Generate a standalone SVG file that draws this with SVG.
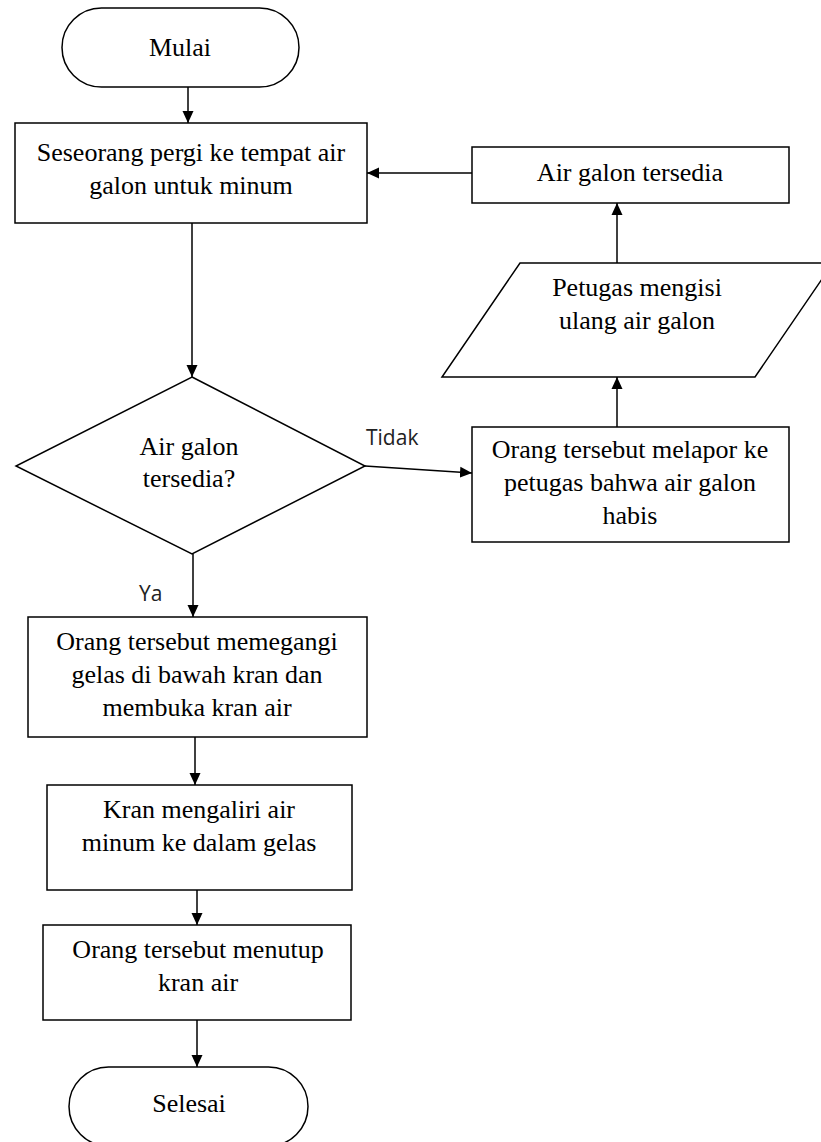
<svg xmlns="http://www.w3.org/2000/svg" width="821" height="1142" viewBox="0 0 821 1142">
<style>
.s{fill:#fff;stroke:#000;stroke-width:1.5}
.t{font-family:"Liberation Serif","Times New Roman",serif;font-size:26px;fill:#000;text-anchor:middle}
.l{font-family:"Open Sans","Noto Sans",sans-serif;font-size:21px;fill:#222}
.c{fill:none;stroke:#000;stroke-width:1.5}
</style>
<defs>
<marker id="ah" markerUnits="userSpaceOnUse" markerWidth="12" markerHeight="12" refX="12" refY="6" orient="auto">
<path d="M0,0.5 L12,6 L0,11.5 z" fill="#000"/>
</marker>
</defs>
<rect width="821" height="1142" fill="#fff"/>
<g id="connectors">
<line class="c" x1="188" y1="87" x2="188" y2="123" marker-end="url(#ah)"/>
<line class="c" x1="192" y1="223" x2="192" y2="377" marker-end="url(#ah)"/>
<line class="c" x1="472" y1="173" x2="367" y2="173" marker-end="url(#ah)"/>
<line class="c" x1="617" y1="263" x2="617" y2="203" marker-end="url(#ah)"/>
<line class="c" x1="617" y1="427" x2="617" y2="377" marker-end="url(#ah)"/>
<line class="c" x1="365" y1="466" x2="472" y2="473" marker-end="url(#ah)"/>
<line class="c" x1="193" y1="554" x2="193" y2="617" marker-end="url(#ah)"/>
<line class="c" x1="195" y1="737" x2="195" y2="785" marker-end="url(#ah)"/>
<line class="c" x1="197" y1="890" x2="197" y2="925" marker-end="url(#ah)"/>
<line class="c" x1="197" y1="1020" x2="197" y2="1067" marker-end="url(#ah)"/>
<text class="l" x="366" y="445">Tidak</text>
<text class="l" x="139" y="601">Ya</text>
</g>
<g id="mulai">
<rect class="s" x="62" y="8" width="237" height="79" rx="39.5" ry="39.5"/>
<text class="t" x="180" y="56">Mulai</text>
</g>
<g id="pergi">
<rect class="s" x="15" y="123" width="352" height="100"/>
<text class="t" x="191" y="161">Seseorang pergi ke tempat air</text>
<text class="t" x="191" y="194">galon untuk minum</text>
</g>
<g id="tersedia-box">
<rect class="s" x="472" y="147" width="317" height="56"/>
<text class="t" x="630" y="181">Air galon tersedia</text>
</g>
<g id="petugas">
<polygon class="s" points="520,263 833,263 755,377 442,377"/>
<text class="t" x="637" y="296">Petugas mengisi</text>
<text class="t" x="637" y="329">ulang air galon</text>
</g>
<g id="melapor">
<rect class="s" x="472" y="427" width="317" height="115"/>
<text class="t" x="630" y="458">Orang tersebut melapor ke</text>
<text class="t" x="630" y="491">petugas bahwa air galon</text>
<text class="t" x="630" y="524">habis</text>
</g>
<g id="decision">
<polygon class="s" points="192,377 365,466 192,554 16,466"/>
<text class="t" x="189" y="455">Air galon</text>
<text class="t" x="189" y="487">tersedia?</text>
</g>
<g id="memegangi">
<rect class="s" x="28" y="617" width="339" height="120"/>
<text class="t" x="197" y="650">Orang tersebut memegangi</text>
<text class="t" x="197" y="683">gelas di bawah kran dan</text>
<text class="t" x="197" y="716">membuka kran air</text>
</g>
<g id="mengaliri">
<rect class="s" x="47" y="785" width="305" height="105"/>
<text class="t" x="199" y="818">Kran mengaliri air</text>
<text class="t" x="199" y="851">minum ke dalam gelas</text>
</g>
<g id="menutup">
<rect class="s" x="43" y="925" width="308" height="95"/>
<text class="t" x="198" y="958">Orang tersebut menutup</text>
<text class="t" x="198" y="991">kran air</text>
</g>
<g id="selesai">
<rect class="s" x="69" y="1067" width="239" height="79" rx="39.5" ry="39.5"/>
<text class="t" x="189" y="1112">Selesai</text>
</g>
</svg>
